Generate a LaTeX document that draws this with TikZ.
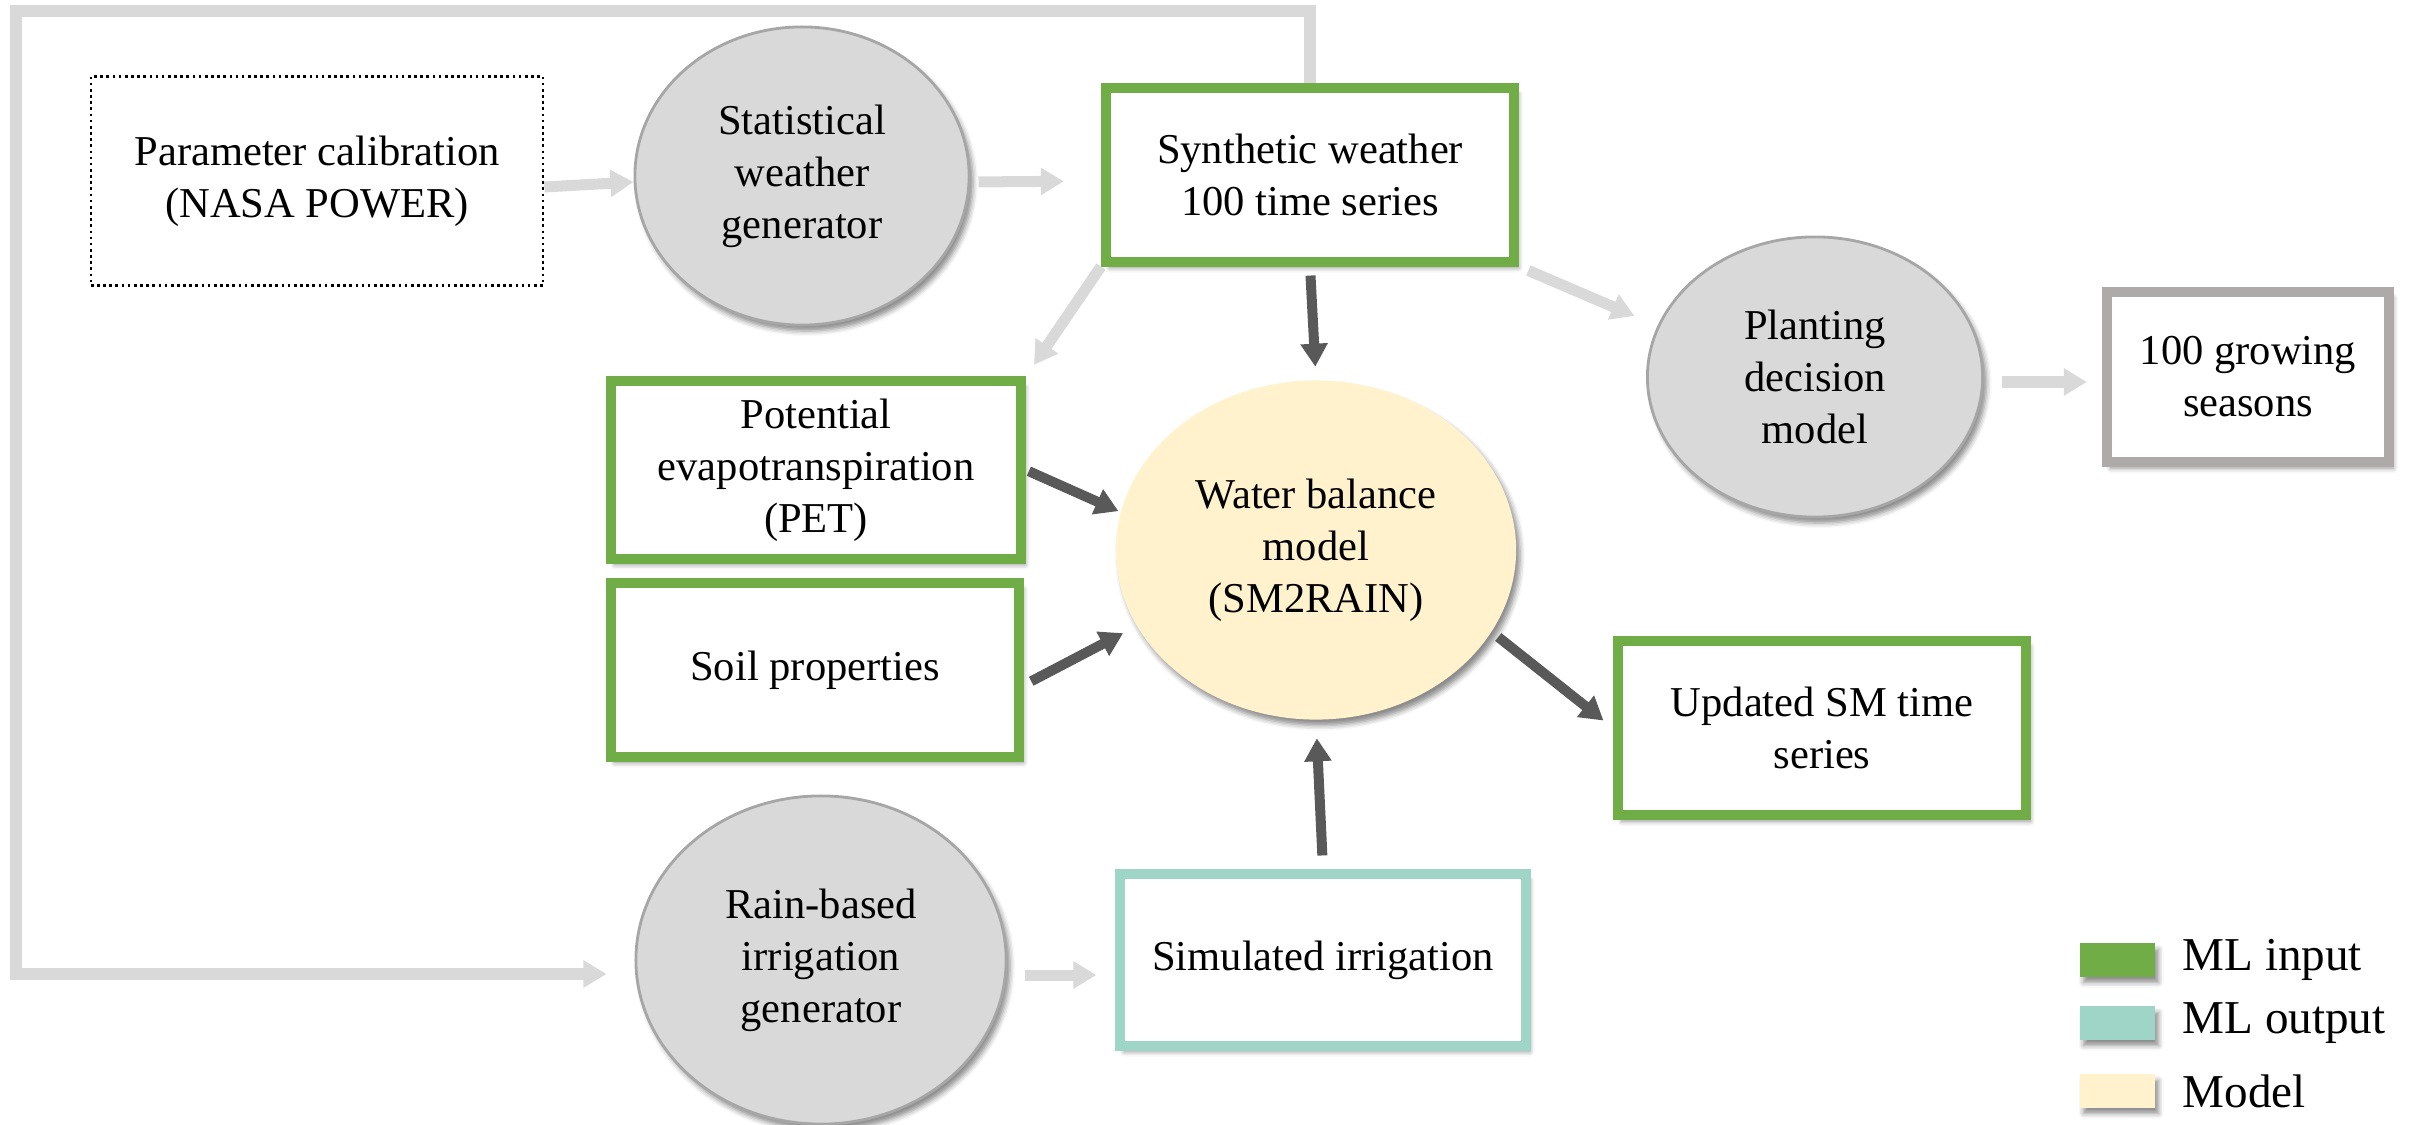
\documentclass[tikz,border=0pt]{standalone}
\usepackage{fontspec}
\setmainfont{Liberation Serif}
\usetikzlibrary{shapes.geometric,arrows.meta,shadows.blur}

\definecolor{mlin}{HTML}{70AD47}
\definecolor{mlout}{HTML}{9FD5C7}
\definecolor{modelfill}{HTML}{FFF2CC}
\definecolor{procfill}{HTML}{D9D9D9}
\definecolor{procline}{HTML}{A6A6A6}
\definecolor{resline}{HTML}{AEAAAA}
\definecolor{lightflow}{HTML}{D9D9D9}
\definecolor{darkflow}{HTML}{595959}

\tikzset{
  soft/.style={blur shadow={shadow xshift=0.04cm, shadow yshift=-0.06cm, shadow blur radius=0.05cm, shadow opacity=45}},
  box/.style={rectangle, draw, line width=0.1cm, fill=white, inner sep=0pt,
    minimum width=4.08cm, minimum height=1.73cm, align=center, soft},
  inbox/.style={box, draw=mlin},
  outbox/.style={box, draw=mlout},
  proc/.style={ellipse, draw=procline, line width=0.8pt, fill=procfill, inner sep=0pt,
    minimum width=3.34cm, minimum height=2.98cm, align=center, soft},
  lightarrow/.style={draw=lightflow, line width=0.11cm, -{Triangle[width=0.26cm, length=0.23cm]}},
  darkarrow/.style={draw=darkflow, line width=0.1cm, -{Triangle[width=0.26cm, length=0.23cm]}},
  legbox/.style={rectangle, inner sep=0pt, minimum width=0.75cm, minimum height=0.33cm, soft}
}

\begin{document}
\begin{tikzpicture}[x=0.01cm, y=-0.01cm, font=\fontsize{12.1}{14.8}\selectfont]
\useasboundingbox (0,0) rectangle (2415,1125);

\node[rectangle, draw, densely dotted, line width=0.75pt, minimum width=4.52cm, minimum height=2.09cm, align=center] (param) at (317,181) {Parameter calibration\\(NASA POWER)};
\node[proc] (stat) at (802,176) {Statistical\\weather\\generator};
\node[inbox] (synth) at (1310,175) {Synthetic weather\\100 time series};
\node[proc, minimum width=3.35cm, minimum height=2.8cm] (plant) at (1815,377) {Planting\\decision\\model};
\node[box, draw=resline, minimum width=2.82cm, minimum height=1.7cm] (grow) at (2248,377) {100 growing\\seasons};
\node[inbox, minimum width=4.1cm, minimum height=1.77cm] (pet) at (816,470) {Potential\\evapotranspiration\\(PET)};
\node[inbox] (soil) at (815,670) {Soil properties};
\node[ellipse, fill=modelfill, inner sep=0pt, minimum width=4cm, minimum height=3.39cm, align=center, soft] (water) at (1316,550) {Water balance\\model\\(SM2RAIN)};
\node[inbox, minimum height=1.74cm] (upd) at (1822,728) {Updated SM time\\series};
\node[proc, minimum width=3.7cm, minimum height=3.28cm] (rain) at (821,960) {Rain-based\\irrigation\\generator};
\node[outbox, minimum width=4.05cm, minimum height=1.71cm] (sim) at (1323,960) {Simulated irrigation};

\node[legbox, fill=mlin] (leg1) at (2117,960) {};
\node[legbox, fill=mlout] (leg2) at (2117,1023) {};
\node[legbox, fill=modelfill] (leg3) at (2117,1091) {};
\node[right, font=\fontsize{13.4}{16}\selectfont, xshift=0.15cm] (lab1) at (leg1.east) {ML input};
\node[right, font=\fontsize{13.4}{16}\selectfont, xshift=0.15cm] (lab2) at (leg2.east) {ML output};
\node[right, font=\fontsize{13.4}{16}\selectfont, xshift=0.15cm] (lab3) at (leg3.east) {Model};

\coordinate (loop) at (16,11);

\draw[lightarrow, line width=0.12cm, line join=miter, shorten >=0.28cm] (synth.north) |- (loop) |- ([yshift=-0.14cm]rain.west);
\draw[lightarrow] ([yshift=-0.06cm]param.east) -- ([yshift=-0.06cm]stat.west);
\draw[lightarrow, shorten <=0.08cm, shorten >=0.37cm] ([yshift=-0.06cm]stat.east) -- ([yshift=-0.06cm]synth.west);
\draw[lightarrow, shorten >=0.14cm] (synth.south west) -- (pet.north east);
\draw[lightarrow, shorten <=0.1cm, shorten >=0.25cm] (synth.south east) -- (plant.162);
\draw[lightarrow, shorten <=0.18cm, shorten >=0.15cm] ([yshift=-0.05cm]plant.east) -- ([yshift=-0.05cm]grow.west);
\draw[lightarrow, shorten <=0.17cm, shorten >=0.19cm] ([yshift=-0.15cm]rain.east) -- ([yshift=-0.15cm]sim.west);

\draw[darkarrow, shorten <=0.09cm, shorten >=0.13cm] (synth.south) -- (water.north);
\draw[darkarrow, shorten <=0.03cm, shorten >=0.02cm] (pet.east) -- (water.169);
\draw[darkarrow, shorten <=0.08cm, shorten >=0.15cm] ([yshift=-0.15cm]soil.east) -- (water.203);
\draw[darkarrow, shorten <=0.08cm, shorten >=0.12cm] (water.335) -- (upd.west);
\draw[darkarrow, shorten <=0.14cm, shorten >=0.18cm] (sim.north) -- (water.south);
\end{tikzpicture}
\end{document}
